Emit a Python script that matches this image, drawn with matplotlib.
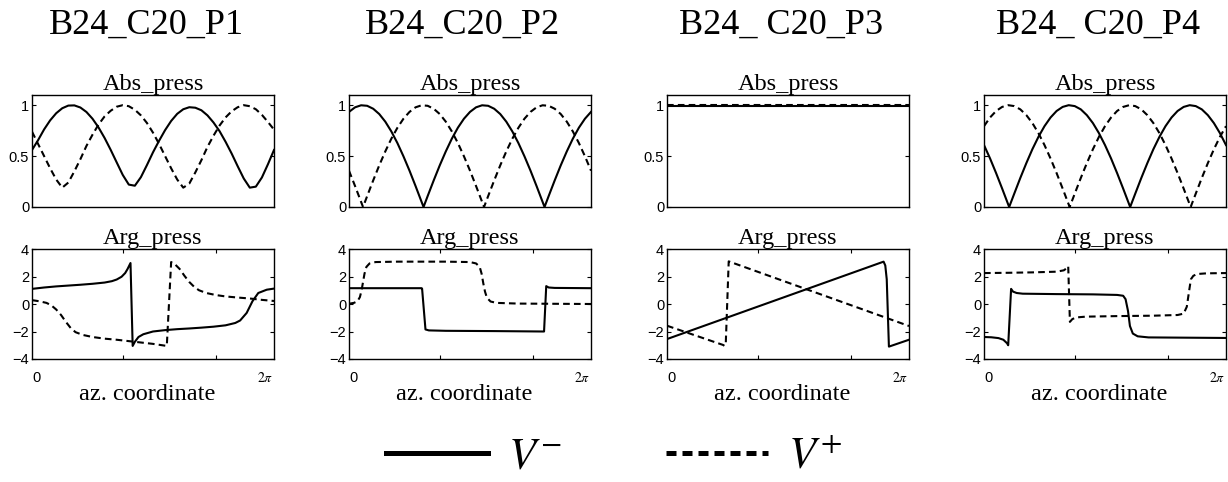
import numpy as np
import matplotlib
matplotlib.use("Agg")
import matplotlib.pyplot as plt

plt.rcParams['mathtext.fontset'] = 'stix'
plt.rcParams['font.family'] = ['Liberation Sans', 'DejaVu Sans']

# ---------------- data (azimuth as fraction of 2*pi) ----------------
panel_titles = ["B24_C20_P1", "B24_C20_P2", "B24_ C20_P3", "B24_ C20_P4"]
series_labels = [r"$V^{-}$", r"$V^{+}$"]

grid41 = [0.0, 0.025, 0.05, 0.075, 0.1, 0.125, 0.15, 0.175, 0.2, 0.225, 0.25,
          0.275, 0.3, 0.325, 0.35, 0.375, 0.4, 0.425, 0.45, 0.475, 0.5,
          0.525, 0.55, 0.575, 0.6, 0.625, 0.65, 0.675, 0.7, 0.725, 0.75,
          0.775, 0.8, 0.825, 0.85, 0.875, 0.9, 0.925, 0.95, 0.975, 1.0]

# P1 |p|
p1_abs_minus_x = grid41
p1_abs_minus = [0.56, 0.656, 0.762, 0.851, 0.921, 0.970, 0.996, 0.998, 0.977, 0.933,
                0.867, 0.781, 0.678, 0.562, 0.438, 0.315, 0.220, 0.209, 0.293, 0.412,
                0.537, 0.65, 0.755, 0.845, 0.915, 0.96, 0.98, 0.975, 0.95, 0.90,
                0.83, 0.745, 0.64, 0.525, 0.40, 0.28, 0.19, 0.20, 0.29, 0.42, 0.56]
p1_abs_plus_x = grid41
p1_abs_plus = [0.74, 0.62, 0.50, 0.38, 0.27, 0.19, 0.24, 0.35, 0.47, 0.60,
               0.71, 0.81, 0.89, 0.945, 0.985, 1.0, 0.99, 0.955, 0.90, 0.825,
               0.73, 0.62, 0.50, 0.38, 0.27, 0.19, 0.23, 0.34, 0.46, 0.59,
               0.70, 0.80, 0.88, 0.94, 0.98, 1.0, 0.99, 0.96, 0.905, 0.835, 0.76]

# P1 arg(p)
p1_arg_minus_x = [0.0, 0.05, 0.1, 0.15, 0.2, 0.25, 0.3, 0.33, 0.35, 0.37, 0.385,
                  0.395, 0.407, 0.416, 0.425, 0.44, 0.46, 0.5, 0.55, 0.6, 0.65,
                  0.7, 0.75, 0.8, 0.84, 0.86, 0.887, 0.911, 0.935, 0.97, 1.0]
p1_arg_minus = [1.1, 1.2, 1.28, 1.34, 1.4, 1.47, 1.56, 1.66, 1.78, 1.98, 2.25,
                2.55, 2.98, -3.05, -2.75, -2.4, -2.2, -2.0, -1.9, -1.83, -1.78,
                -1.72, -1.65, -1.55, -1.38, -1.2, -0.65, 0.2, 0.8, 1.04, 1.12]
p1_arg_plus_x = [0.0, 0.03, 0.06, 0.08, 0.1, 0.12, 0.14, 0.16, 0.18, 0.21, 0.25,
                 0.3, 0.35, 0.4, 0.45, 0.5, 0.557, 0.575, 0.59, 0.61, 0.63, 0.65,
                 0.67, 0.69, 0.72, 0.76, 0.8, 0.85, 0.9, 0.95, 1.0]
p1_arg_plus = [0.28, 0.2, 0.08, -0.1, -0.4, -0.8, -1.3, -1.75, -2.05, -2.25, -2.4,
               -2.52, -2.6, -2.7, -2.8, -2.9, -3.05, 3.05, 2.9, 2.55, 2.05, 1.6,
               1.25, 1.0, 0.8, 0.65, 0.55, 0.47, 0.4, 0.3, 0.22]

# P2 |p|
p2_abs_minus_x = [0.0, 0.025, 0.05, 0.075, 0.1, 0.125, 0.15, 0.175, 0.2, 0.225, 0.25,
                  0.275, 0.3, 0.308, 0.325, 0.35, 0.375, 0.4, 0.425, 0.45, 0.475, 0.5,
                  0.525, 0.55, 0.575, 0.6, 0.625, 0.65, 0.675, 0.7, 0.725, 0.75,
                  0.775, 0.8, 0.808, 0.825, 0.85, 0.875, 0.9, 0.925, 0.95, 0.975, 1.0]
p2_abs_minus = [0.934, 0.979, 0.999, 0.994, 0.965, 0.913, 0.838, 0.742, 0.628, 0.498,
                0.357, 0.206, 0.050, 0.0, 0.107, 0.261, 0.409, 0.546, 0.671, 0.779,
                0.867, 0.934, 0.979, 0.999, 0.994, 0.965, 0.913, 0.838, 0.742, 0.628,
                0.498, 0.357, 0.206, 0.050, 0.0, 0.107, 0.261, 0.409, 0.546, 0.671,
                0.779, 0.867, 0.934]
p2_abs_plus_x = [0.0, 0.025, 0.05, 0.058, 0.075, 0.1, 0.125, 0.15, 0.175, 0.2, 0.225,
                 0.25, 0.275, 0.3, 0.325, 0.35, 0.375, 0.4, 0.425, 0.45, 0.475, 0.5,
                 0.525, 0.55, 0.558, 0.575, 0.6, 0.625, 0.65, 0.675, 0.7, 0.725,
                 0.75, 0.775, 0.8, 0.825, 0.85, 0.875, 0.9, 0.925, 0.95, 0.975, 1.0]
p2_abs_plus = [0.356, 0.206, 0.05, 0.0, 0.107, 0.261, 0.409, 0.546, 0.671, 0.778,
               0.867, 0.934, 0.979, 0.999, 0.994, 0.965, 0.913, 0.838, 0.742, 0.628,
               0.498, 0.357, 0.206, 0.05, 0.0, 0.107, 0.261, 0.409, 0.546, 0.671,
               0.778, 0.867, 0.934, 0.979, 0.999, 0.994, 0.965, 0.913, 0.838, 0.742,
               0.628, 0.498, 0.357]

# P2 arg(p)
p2_arg_minus_x = [0.0, 0.3, 0.302, 0.316, 0.33, 0.4, 0.6, 0.8, 0.806, 0.815,
                  0.825, 0.85, 1.0]
p2_arg_minus = [1.15, 1.15, 1.12, -1.85, -1.92, -1.95, -1.97, -2.0, -2.0, 1.3,
                1.2, 1.17, 1.15]
p2_arg_plus_x = [0.0, 0.02, 0.035, 0.045, 0.052, 0.058, 0.064, 0.072, 0.085, 0.11,
                 0.2, 0.4, 0.5, 0.525, 0.54, 0.548, 0.555, 0.562, 0.57, 0.585,
                 0.61, 0.7, 1.0]
p2_arg_plus = [0.02, 0.08, 0.2, 0.5, 1.0, 1.6, 2.2, 2.7, 2.95, 3.05,
               3.08, 3.08, 3.05, 2.95, 2.7, 2.2, 1.5, 0.9, 0.45, 0.18,
               0.08, 0.03, 0.0]

# P3 |p|
p3_abs_minus_x = [0.0, 0.5, 1.0]
p3_abs_minus = [0.995, 0.995, 0.995]
p3_abs_plus_x = [0.0, 0.5, 1.0]
p3_abs_plus = [1.0, 1.0, 1.0]

# P3 arg(p)
p3_arg_minus_x = [0.0, 0.895, 0.902, 0.908, 0.917, 1.0]
p3_arg_minus = [-2.55, 3.08, 2.8, 1.8, -3.1, -2.6]
p3_arg_plus_x = [0.0, 0.232, 0.238, 0.243, 0.255, 1.0]
p3_arg_plus = [-1.58, -2.98, -3.05, -2.8, 3.1, -1.6]

# P4 |p|
p4_abs_minus_x = [0.0, 0.025, 0.05, 0.075, 0.1, 0.104, 0.125, 0.15, 0.175, 0.2, 0.225,
                  0.25, 0.275, 0.3, 0.325, 0.35, 0.375, 0.4, 0.425, 0.45, 0.475, 0.5,
                  0.525, 0.55, 0.575, 0.6, 0.604, 0.625, 0.65, 0.675, 0.7, 0.725,
                  0.75, 0.775, 0.8, 0.825, 0.85, 0.875, 0.9, 0.925, 0.95, 0.975, 1.0]
p4_abs_minus = [0.608, 0.477, 0.333, 0.181, 0.025, 0.0, 0.131, 0.285, 0.431, 0.568,
                0.689, 0.794, 0.879, 0.943, 0.983, 1.0, 0.991, 0.959, 0.902, 0.824,
                0.725, 0.608, 0.477, 0.333, 0.181, 0.025, 0.0, 0.131, 0.285, 0.431,
                0.568, 0.689, 0.794, 0.879, 0.943, 0.983, 1.0, 0.991, 0.959, 0.902,
                0.824, 0.725, 0.608]
p4_abs_plus_x = [0.0, 0.025, 0.05, 0.075, 0.1, 0.125, 0.15, 0.175, 0.2, 0.225, 0.25,
                 0.275, 0.3, 0.325, 0.35, 0.354, 0.375, 0.4, 0.425, 0.45, 0.475, 0.5,
                 0.525, 0.55, 0.575, 0.6, 0.625, 0.65, 0.675, 0.7, 0.725, 0.75,
                 0.775, 0.8, 0.825, 0.85, 0.854, 0.875, 0.9, 0.925, 0.95, 0.975, 1.0]
p4_abs_plus = [0.794, 0.879, 0.943, 0.983, 1.0, 0.991, 0.959, 0.902, 0.824, 0.725,
               0.608, 0.476, 0.333, 0.181, 0.025, 0.0, 0.131, 0.285, 0.431, 0.567,
               0.689, 0.794, 0.879, 0.943, 0.983, 1.0, 0.991, 0.959, 0.902, 0.824,
               0.725, 0.608, 0.476, 0.333, 0.181, 0.025, 0.0, 0.131, 0.285, 0.431,
               0.567, 0.689, 0.794]

# P4 arg(p)
p4_arg_minus_x = [0.0, 0.03, 0.06, 0.08, 0.095, 0.1, 0.112, 0.12, 0.135, 0.16, 0.3,
                  0.45, 0.55, 0.575, 0.585, 0.595, 0.603, 0.615, 0.635, 0.68, 1.0]
p4_arg_minus = [-2.4, -2.42, -2.48, -2.6, -2.85, -3.0, 1.1, 0.9, 0.8, 0.75, 0.72,
                0.7, 0.66, 0.6, 0.35, -0.5, -1.6, -2.15, -2.35, -2.43, -2.47]
p4_arg_plus_x = [0.0, 0.1, 0.2, 0.3, 0.33, 0.345, 0.348, 0.355, 0.365, 0.38, 0.42,
                 0.55, 0.7, 0.8, 0.825, 0.838, 0.848, 0.855, 0.865, 0.88, 0.92, 1.0]
p4_arg_plus = [2.25, 2.27, 2.3, 2.35, 2.45, 2.65, 2.75, -1.3, -1.1, -0.98, -0.92,
               -0.88, -0.85, -0.8, -0.7, -0.2, 1.0, 1.8, 2.05, 2.18, 2.23, 2.25]

abs_data = [
    ((p1_abs_minus_x, p1_abs_minus), (p1_abs_plus_x, p1_abs_plus)),
    ((p2_abs_minus_x, p2_abs_minus), (p2_abs_plus_x, p2_abs_plus)),
    ((p3_abs_minus_x, p3_abs_minus), (p3_abs_plus_x, p3_abs_plus)),
    ((p4_abs_minus_x, p4_abs_minus), (p4_abs_plus_x, p4_abs_plus)),
]
arg_data = [
    ((p1_arg_minus_x, p1_arg_minus), (p1_arg_plus_x, p1_arg_plus)),
    ((p2_arg_minus_x, p2_arg_minus), (p2_arg_plus_x, p2_arg_plus)),
    ((p3_arg_minus_x, p3_arg_minus), (p3_arg_plus_x, p3_arg_plus)),
    ((p4_arg_minus_x, p4_arg_minus), (p4_arg_plus_x, p4_arg_plus)),
]

# ---------------- figure ----------------
W, H = 1228, 482
fig = plt.figure(figsize=(W / 100, H / 100), dpi=100)

lefts_px = [32, 349, 667, 984]
ax_w_px = 242
top_ax_px = (95, 207)
bot_ax_px = (249, 359)

serif = ['Liberation Serif', 'DejaVu Serif']
lw = 1.5
dash = (3.2, 2.0)
twopi = 2 * np.pi
inner_ticks = [0.378 * twopi, 0.759 * twopi]
tick_fs = 10.5
label_fs = 17.5


def make_ax(left, top, bottom):
    return fig.add_axes([left / W, 1 - bottom / H, ax_w_px / W, (bottom - top) / H])


handles = None
for i in range(4):
    left = lefts_px[i]
    # column title
    fig.text((left + ax_w_px / 2 - 7) / W, 1 - 25 / H, panel_titles[i],
             family=serif, fontsize=26, ha='center', va='center')

    # --- Abs ---
    ax = make_ax(left, *top_ax_px)
    (xm, ym), (xp, yp) = abs_data[i]
    l1, = ax.plot(np.array(xm) * twopi, ym, color='black', lw=lw)
    l2, = ax.plot(np.array(xp) * twopi, yp, color='black', lw=lw,
                  linestyle=(0, dash))
    ax.set_xlim(0, twopi)
    ax.set_ylim(0, 1.1)
    ax.set_yticks([0, 0.5, 1])
    ax.set_yticklabels(['0', '0.5', '1'])
    ax.set_xticks([])
    ax.set_title('Abs_press', family=serif, fontsize=label_fs, pad=3)
    ax.tick_params(axis='y', direction='in', length=3, right=True, pad=2,
                   labelsize=tick_fs, width=0.8)
    for s in ax.spines.values():
        s.set_linewidth(1.0)
    if handles is None:
        handles = [l1, l2]

    # --- Arg ---
    ax = make_ax(left, *bot_ax_px)
    (xm, ym), (xp, yp) = arg_data[i]
    ax.plot(np.array(xm) * twopi, ym, color='black', lw=lw)
    ax.plot(np.array(xp) * twopi, yp, color='black', lw=lw, linestyle=(0, dash))
    ax.set_xlim(0, twopi)
    ax.set_ylim(-4, 4)
    ax.set_yticks([-4, -2, 0, 2, 4])
    ax.set_xticks(inner_ticks)
    ax.set_xticklabels([])
    ax.set_title('Arg_press', family=serif, fontsize=label_fs, pad=3)
    ax.tick_params(axis='y', direction='in', length=3, right=True, pad=2,
                   labelsize=tick_fs, width=0.8)
    ax.tick_params(axis='x', direction='in', length=3, top=True, width=0.8)
    for s in ax.spines.values():
        s.set_linewidth(1.0)
    ax.text(0.02, -0.17, '0', transform=ax.transAxes, ha='center', va='center',
            fontsize=tick_fs)
    ax.text(0.963, -0.17, r'$2\pi$', transform=ax.transAxes, ha='center',
            va='center', fontsize=10)
    ax.text(0.478, -0.32, 'az. coordinate', transform=ax.transAxes, ha='center',
            va='center', family=serif, fontsize=label_fs)

leg = fig.legend(handles, series_labels, loc='center',
                 bbox_to_anchor=(0.5, 1 - 457 / H), ncol=2, frameon=False,
                 fontsize=32, handlelength=2.3, handletextpad=0.45,
                 columnspacing=2.35, borderaxespad=0, borderpad=0)
leg_lines = leg.get_lines()
for ln in leg_lines:
    ln.set_linewidth(3.6)
leg_lines[1].set_linestyle((0, (2.0, 1.2)))

fig.savefig('out.png', dpi=100)
